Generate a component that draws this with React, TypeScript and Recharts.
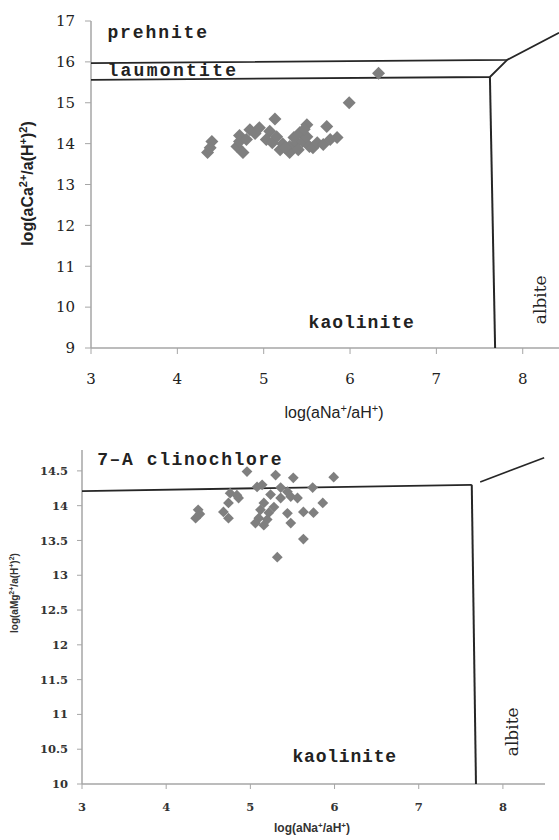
import React from "react";
import { ScatterChart, Scatter, XAxis, YAxis, ReferenceDot } from "recharts";

// ---------- Data: upper diagram (Ca system) ----------
const naTicks = [3, 4, 5, 6, 7, 8];
const caTicks = [9, 10, 11, 12, 13, 14, 15, 16, 17];

const caSampleNa = [
  6.33, 5.99, 5.13, 5.73, 4.4, 4.35, 4.38, 4.72, 4.69, 4.76, 4.72, 4.8, 4.84, 4.95, 5.07, 4.9,
  5.03, 5.1, 5.19, 5.15, 5.22, 5.3, 5.3, 5.38, 5.42, 5.5, 5.45, 5.5, 5.35, 5.53, 5.57, 5.62,
  5.69, 5.77, 5.85, 5.25, 5.4, 5.47,
];
const caSampleCa = [
  15.72, 15.0, 14.6, 14.42, 14.05, 13.78, 13.9, 14.2, 13.93, 13.78, 14.05, 14.1, 14.34, 14.39, 14.3, 14.25,
  14.1, 14.02, 13.85, 14.17, 14.0, 13.93, 13.78, 14.02, 14.27, 14.46, 14.05, 14.17, 14.15, 13.93, 13.9, 14.02,
  13.98, 14.1, 14.15, 13.9, 13.85, 14.35,
];

const caUpperBoundary = [
  { x: 3, y: 15.97 },
  { x: 7.82, y: 16.05 },
  { x: 8.42, y: 16.71 },
];
const caLowerBoundary = [
  { x: 3, y: 15.56 },
  { x: 7.62, y: 15.63 },
  { x: 7.82, y: 16.05 },
];
const caAlbiteBoundary = [
  { x: 7.62, y: 15.63 },
  { x: 7.68, y: 9 },
];

// ---------- Data: lower diagram (Mg system) ----------
const mgTicks = [10, 10.5, 11, 11.5, 12, 12.5, 13, 13.5, 14, 14.5];

const mgSampleNa = [
  4.96, 5.3, 5.51, 5.99, 5.08, 5.14, 5.36, 5.44, 5.74, 4.76, 4.84, 4.86, 4.74, 4.68, 4.74, 4.38,
  4.35, 4.4, 5.24, 5.16, 5.12, 5.1, 5.16, 5.22, 5.28, 5.36, 5.48, 5.56, 5.44, 5.48, 5.63, 5.75,
  5.86, 5.63, 5.32, 5.06, 5.2,
];
const mgSampleMg = [
  14.49, 14.44, 14.4, 14.41, 14.27, 14.3, 14.26, 14.2, 14.26, 14.18, 14.15, 14.11, 14.04, 13.91, 13.82, 13.94,
  13.82, 13.88, 14.16, 14.04, 13.94, 13.82, 13.72, 13.9, 13.98, 14.11, 14.13, 14.11, 13.89, 13.75, 13.91, 13.9,
  14.04, 13.52, 13.26, 13.75, 13.8,
];

const mgClinochloreBoundary = [
  { x: 3, y: 14.21 },
  { x: 7.63, y: 14.3 },
];
const mgAlbiteBoundary = [
  { x: 7.63, y: 14.3 },
  { x: 7.68, y: 10 },
];
const mgUpperRightBoundary = [
  { x: 7.73, y: 14.34 },
  { x: 8.49, y: 14.69 },
];

const caPoints = caSampleNa.map((x, i) => ({ x, y: caSampleCa[i] }));
const mgPoints = mgSampleNa.map((x, i) => ({ x, y: mgSampleMg[i] }));

// ---------- Styles ----------
const MARK = "#7f7f7f";
const AXIS = "#a6a6a6";
const LINE = "#262626";
const LABEL_FONT = "'Liberation Mono', 'DejaVu Sans Mono', monospace";

const diamond = (half: number) => (p: any) => {
  const { cx, cy } = p;
  if (cx == null || cy == null) return <g />;
  return (
    <path
      d={`M${cx},${cy - half}L${cx + half},${cy}L${cx},${cy + half}L${cx - half},${cy}Z`}
      fill={MARK}
    />
  );
};

const noDot = () => <g />;

const regionText =
  (text: string, size: number, opts: { rotate?: boolean; spacing?: number } = {}) =>
  (p: any) => {
    const { cx, cy } = p;
    if (cx == null || cy == null) return <g />;
    if (opts.rotate) {
      return (
        <text
          x={cx}
          y={cy}
          transform={`rotate(-90, ${cx}, ${cy})`}
          textAnchor="middle"
          fontFamily="'DejaVu Serif', serif"
          fontSize={size}
          fill="#222"
        >
          {text}
        </text>
      );
    }
    return (
      <text
        x={cx}
        y={cy}
        fontFamily={LABEL_FONT}
        fontWeight="bold"
        fontSize={size}
        letterSpacing={opts.spacing ?? 2}
        fill="#222"
      >
        {text}
      </text>
    );
  };

const Sup = ({ children, size, up }: any) => (
  <tspan fontSize={size} dy={-up}>
    {children}
  </tspan>
);

function CaYLabel(props: any) {
  const vb = props.viewBox || { x: 0, y: 21, width: 91, height: 327 };
  const x = 33;
  const y = vb.y + vb.height / 2 - 1;
  const s = 11;
  const u = 6;
  return (
    <text
      x={x}
      y={y}
      transform={`rotate(-90, ${x}, ${y})`}
      textAnchor="middle"
      fontFamily="'Liberation Sans', Arial, sans-serif"
      fontWeight="bold"
      fontSize={16}
      fill="#222"
    >
      log(aCa
      <Sup size={s} up={u}>2+</Sup>
      <tspan dy={u}>/a(H</tspan>
      <Sup size={s} up={u}>+</Sup>
      <tspan dy={u}>)</tspan>
      <Sup size={s} up={u}>2</Sup>
      <tspan dy={u}>)</tspan>
    </text>
  );
}

function CaXLabel() {
  const x = 334;
  const y = 418;
  const s = 11;
  const u = 6;
  return (
    <text x={x} y={y} textAnchor="middle" fontFamily="'Liberation Sans', Arial, sans-serif" fontSize={16} fill="#222">
      log(aNa
      <Sup size={s} up={u}>+</Sup>
      <tspan dy={u}>/aH</tspan>
      <Sup size={s} up={u}>+</Sup>
      <tspan dy={u}>)</tspan>
    </text>
  );
}

// coordinates below are relative to the lower chart's own SVG (placed at top 430)
function MgYLabel() {
  const x = 18;
  const y = 163;
  const s = 7;
  const u = 4;
  return (
    <text
      x={x}
      y={y}
      transform={`rotate(-90, ${x}, ${y})`}
      textAnchor="middle"
      fontFamily="'Liberation Sans', Arial, sans-serif"
      fontWeight="bold"
      fontSize={10}
      fill="#333"
    >
      log(aMg
      <Sup size={s} up={u}>2+</Sup>
      <tspan dy={u}>/a(H</tspan>
      <Sup size={s} up={u}>+</Sup>
      <tspan dy={u}>)</tspan>
      <Sup size={s} up={u}>2</Sup>
      <tspan dy={u}>)</tspan>
    </text>
  );
}

function MgXLabel() {
  const x = 312;
  const y = 402;
  const s = 8;
  const u = 4;
  return (
    <text x={x} y={y} textAnchor="middle" fontFamily="'Liberation Sans', Arial, sans-serif" fontWeight="bold" fontSize={12} fill="#333">
      log(aNa
      <Sup size={s} up={u}>+</Sup>
      <tspan dy={u}>/aH</tspan>
      <Sup size={s} up={u}>+</Sup>
      <tspan dy={u}>)</tspan>
    </text>
  );
}

const boundaryLine = (w: number) => ({ stroke: LINE, strokeWidth: w });

export default function App() {
  return (
    <div style={{ position: "absolute", left: 0, top: 0, width: 559, height: 840, background: "#fff", fontFamily: "'DejaVu Serif', serif" }}>
      {/* Upper diagram */}
      <div style={{ position: "absolute", left: 0, top: 0 }}>
        <ScatterChart width={559} height={425} margin={{ top: 21, right: 0, left: 0, bottom: 0 }}>
          <XAxis
            type="number"
            dataKey="x"
            domain={[3, 8.42]}
            ticks={naTicks}
            allowDataOverflow
            height={77}
            tickSize={6}
            tickMargin={19}
            axisLine={{ stroke: AXIS, strokeWidth: 1.5 }}
            tickLine={{ stroke: AXIS }}
            tick={{ fill: "#222", fontFamily: "'DejaVu Serif', serif", fontSize: 15 }}
            label={<CaXLabel />}
          />
          <YAxis
            type="number"
            dataKey="y"
            domain={[9, 17]}
            ticks={caTicks}
            allowDataOverflow
            width={91}
            tickSize={6}
            tickMargin={10}
            axisLine={{ stroke: AXIS, strokeWidth: 1.5 }}
            tickLine={{ stroke: AXIS }}
            tick={{ fill: "#222", fontFamily: "'DejaVu Serif', serif", fontSize: 15 }}
            label={<CaYLabel />}
          />
          <Scatter data={caUpperBoundary} line={boundaryLine(1.8)} shape={noDot} isAnimationActive={false} />
          <Scatter data={caLowerBoundary} line={boundaryLine(1.8)} shape={noDot} isAnimationActive={false} />
          <Scatter data={caAlbiteBoundary} line={boundaryLine(2)} shape={noDot} isAnimationActive={false} />
          <Scatter data={caPoints} shape={diamond(6.5)} isAnimationActive={false} />
          <ReferenceDot x={3.19} y={16.58} r={0} shape={regionText("prehnite", 18, { spacing: 1.9 })} />
          <ReferenceDot x={3.19} y={15.66} r={0} shape={regionText("laumontite", 18, { spacing: 2.3 })} />
          <ReferenceDot x={5.52} y={9.49} r={0} shape={regionText("kaolinite", 18, { spacing: 1 })} />
          <ReferenceDot x={8.27} y={10.18} r={0} shape={regionText("albite", 17, { rotate: true })} />
        </ScatterChart>
      </div>

      {/* Lower diagram */}
      <div style={{ position: "absolute", left: 0, top: 430 }}>
        <ScatterChart width={559} height={410} margin={{ top: 20, right: 14, left: 0, bottom: 0 }}>
          <XAxis
            type="number"
            dataKey="x"
            domain={[3, 8.5]}
            ticks={naTicks}
            allowDataOverflow
            height={56}
            tickSize={5}
            tickMargin={14}
            axisLine={{ stroke: AXIS, strokeWidth: 1.5 }}
            tickLine={{ stroke: AXIS }}
            tick={{ fill: "#333", fontFamily: "'DejaVu Serif', serif", fontWeight: "bold", fontSize: 11.5 }}
            label={<MgXLabel />}
          />
          <YAxis
            type="number"
            dataKey="y"
            domain={[10, 14.8]}
            ticks={mgTicks}
            allowDataOverflow
            width={82}
            tickSize={5}
            tickMargin={9}
            axisLine={{ stroke: AXIS, strokeWidth: 1.5 }}
            tickLine={{ stroke: AXIS }}
            tick={{ fill: "#333", fontFamily: "'DejaVu Serif', serif", fontWeight: "bold", fontSize: 11.5 }}
            label={<MgYLabel />}
          />
          <Scatter data={mgClinochloreBoundary} line={boundaryLine(1.8)} shape={noDot} isAnimationActive={false} />
          <Scatter data={mgAlbiteBoundary} line={boundaryLine(2)} shape={noDot} isAnimationActive={false} />
          <Scatter data={mgUpperRightBoundary} line={boundaryLine(1.6)} shape={noDot} isAnimationActive={false} />
          <Scatter data={mgPoints} shape={diamond(5.4)} isAnimationActive={false} />
          <ReferenceDot x={3.18} y={14.585} r={0} shape={regionText("7–A clinochlore", 18, { spacing: 1.6 })} />
          <ReferenceDot x={5.5} y={10.317} r={0} shape={regionText("kaolinite", 18, { spacing: 0.8 })} />
          <ReferenceDot x={8.18} y={10.75} r={0} shape={regionText("albite", 17, { rotate: true })} />
        </ScatterChart>
      </div>
    </div>
  );
}
